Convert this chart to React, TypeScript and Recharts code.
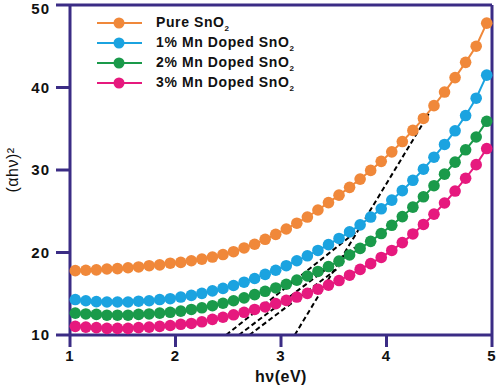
import React from 'react'
import { Label, Legend, Line, LineChart, ReferenceLine, XAxis, YAxis } from 'recharts'

// photon energy (eV) of each measured point
const hv = [
  1.05, 1.15, 1.25, 1.35, 1.45, 1.55, 1.65, 1.75, 1.85, 1.95,
  2.05, 2.15, 2.25, 2.35, 2.45, 2.55, 2.65, 2.75, 2.85, 2.95,
  3.05, 3.15, 3.25, 3.35, 3.45, 3.55, 3.65, 3.75, 3.85, 3.95,
  4.05, 4.15, 4.25, 4.35, 4.45, 4.55, 4.65, 4.75, 4.85, 4.95,
]

const pureSnO2 = [
  17.8, 17.85, 17.9, 18.0, 18.05, 18.15, 18.25, 18.4, 18.5, 18.7,
  18.8, 19.0, 19.2, 19.45, 19.75, 20.1, 20.55, 21.0, 21.6, 22.2,
  22.85, 23.55, 24.3, 25.15, 26.05, 26.95, 27.9, 28.9, 29.95, 31.05,
  32.2, 33.45, 34.8, 36.25, 37.8, 39.45, 41.2, 43.05, 45.0, 47.8,
]

const mn1 = [
  14.3, 14.15, 14.05, 14.0, 14.0, 14.0, 14.1, 14.15, 14.3, 14.4,
  14.6, 14.8, 15.05, 15.35, 15.65, 16.0, 16.4, 16.85, 17.35, 17.85,
  18.4, 19.0, 19.6, 20.25, 20.95, 21.7, 22.5, 23.35, 24.3, 25.3,
  26.35, 27.5, 28.75, 30.1, 31.55, 33.1, 34.75, 36.6, 38.7, 41.5,
]

const mn2 = [
  12.65, 12.55, 12.5, 12.4, 12.4, 12.4, 12.5, 12.55, 12.65, 12.75,
  12.9, 13.1, 13.3, 13.55, 13.85, 14.15, 14.5, 14.9, 15.3, 15.7,
  16.15, 16.65, 17.15, 17.7, 18.3, 18.95, 19.7, 20.5, 21.35, 22.3,
  23.3, 24.35, 25.5, 26.75, 28.1, 29.5, 30.95, 32.45, 34.0, 35.9,
]

const mn3 = [
  11.05, 10.95, 10.9, 10.8, 10.8, 10.8, 10.9, 10.95, 11.05, 11.15,
  11.3, 11.4, 11.6, 11.9, 12.15, 12.45, 12.75, 13.1, 13.4, 13.8,
  14.2, 14.6, 15.05, 15.55, 16.05, 16.6, 17.25, 17.95, 18.65, 19.4,
  20.25, 21.2, 22.25, 23.4, 24.65, 26.0, 27.45, 29.0, 30.65, 32.6,
]

// tangent (band gap) lines: [start, end] as [hv, value]
const tangentPure = [[3.13, 10], [4.4, 36.8]]
const tangentMn1 = [[2.48, 10], [3.72, 22.6]]
const tangentMn2 = [[2.6, 10], [3.7, 20.6]]
const tangentMn3 = [[2.7, 10], [3.55, 18.2]]

const xTicks = [1, 2, 3, 4, 5]
const yTicks = [10, 20, 30, 40, 50]

const NAVY = '#3b2c85'
const FONT = '"Liberation Sans", Arial, sans-serif'

const series = [
  { key: 'pure', label: 'Pure SnO', values: pureSnO2, color: '#f0883a' },
  { key: 'mn1', label: '1% Mn Doped SnO', values: mn1, color: '#1ba3e0' },
  { key: 'mn2', label: '2% Mn Doped SnO', values: mn2, color: '#1a9a4a' },
  { key: 'mn3', label: '3% Mn Doped SnO', values: mn3, color: '#e6197e' },
]

const data = hv.map((h, i) => {
  const row: any = { hv: h }
  series.forEach((s) => {
    row[s.key] = s.values[i]
  })
  return row
})

const tangents = [tangentPure, tangentMn1, tangentMn2, tangentMn3]

// legend with line + dot icon and subscript 2
const renderLegend = () => (
  <div style={{ fontFamily: FONT }}>
    {series.map((s) => (
      <div
        key={s.key}
        style={{ display: 'flex', alignItems: 'center', height: 20 }}
      >
        <svg width={45} height={12} style={{ marginRight: 14 }}>
          <line x1={0} y1={6} x2={45} y2={6} stroke={s.color} strokeWidth={2} />
          <circle cx={22} cy={6} r={5.5} fill={s.color} />
        </svg>
        <span
          style={{
            fontSize: 14,
            fontWeight: 'bold',
            letterSpacing: 0.6,
            color: '#111',
          }}
        >
          {s.label}
          <sub style={{ fontSize: 8 }}>2</sub>
        </span>
      </div>
    ))}
  </div>
)

export default function App() {
  const tickStyle = {
    fill: '#111',
    fontSize: 15,
    fontWeight: 'bold',
    fontFamily: FONT,
    letterSpacing: 1,
  }

  return (
    <div style={{ position: 'absolute', left: 0, top: 0 }}>
      <LineChart
        width={500}
        height={386}
        data={data}
        margin={{ top: 5, right: 8, bottom: 0, left: 0 }}
      >
        <XAxis
          dataKey="hv"
          type="number"
          domain={[1, 5]}
          ticks={xTicks}
          height={51}
          tickSize={12}
          tickMargin={3}
          axisLine={{ stroke: NAVY, strokeWidth: 3 }}
          tickLine={{ stroke: NAVY, strokeWidth: 3 }}
          tick={tickStyle}
        >
          <Label
            value="hν(eV)"
            position="insideBottom"
            offset={4}
            style={{
              fill: '#111',
              fontSize: 16,
              fontWeight: 'bold',
              fontFamily: FONT,
              letterSpacing: 0.5,
            }}
          />
        </XAxis>
        <YAxis
          type="number"
          domain={[10, 50]}
          ticks={yTicks}
          width={70}
          tickSize={14}
          tickMargin={6}
          axisLine={{ stroke: NAVY, strokeWidth: 3 }}
          tickLine={{ stroke: NAVY, strokeWidth: 3 }}
          tick={tickStyle}
        >
          <Label
            value="(αhν)²"
            position="insideLeft"
            angle={-90}
            offset={12}
            style={{
              textAnchor: 'middle',
              fill: '#111',
              fontSize: 16,
              fontFamily: FONT,
              letterSpacing: 0.5,
            }}
          />
        </YAxis>
        <ReferenceLine y={50} stroke={NAVY} strokeWidth={3} />
        <ReferenceLine x={5} stroke={NAVY} strokeWidth={3} />
        <Legend
          layout="vertical"
          align="center"
          verticalAlign="middle"
          content={renderLegend}
          wrapperStyle={{ left: 97, top: 13, width: 'auto' }}
        />
        {series.map((s) => (
          <Line
            key={s.key}
            dataKey={s.key}
            stroke={s.color}
            strokeWidth={2}
            dot={{ r: 5.8, fill: s.color, stroke: 'none' }}
            isAnimationActive={false}
          />
        ))}
        {tangents.map((t, i) => (
          <ReferenceLine
            key={`tangent-${i}`}
            segment={[
              { x: t[0][0], y: t[0][1] },
              { x: t[1][0], y: t[1][1] },
            ]}
            stroke="#000"
            strokeWidth={2}
            strokeDasharray="5 3"
          />
        ))}
      </LineChart>
    </div>
  )
}
